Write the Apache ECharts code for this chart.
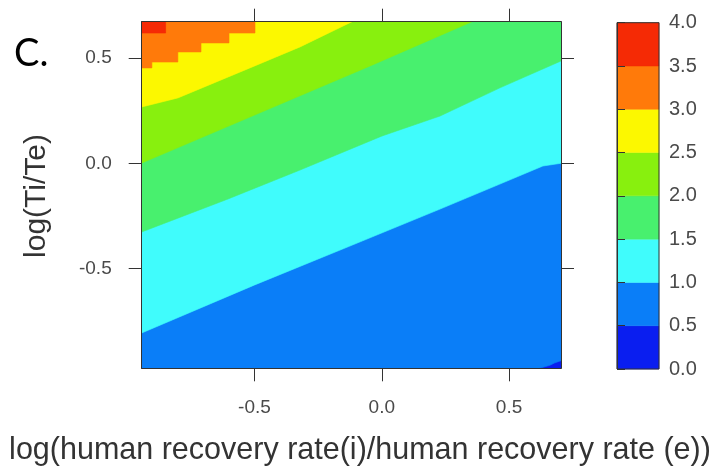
<!DOCTYPE html>
<html>
<head>
<meta charset="utf-8">
<script src="https://cdn.jsdelivr.net/npm/echarts@6/dist/echarts.min.js"></script>
<style>
  html, body { margin: 0; padding: 0; background: #ffffff; }
  #chart { width: 717px; height: 469px; }
</style>
</head>
<body>
<div id="chart"></div>
<script>
// Contour breaks and the fill colour of each band between them
const levelBreaks = [0, 0.5, 1.0, 1.5, 2.0, 2.5, 3.0, 3.5, 4.0];
const levelColors = ['#0a1ef0', '#0a7ef8', '#40fcfc', '#48f06e', '#88f00e', '#fcf800', '#ff7a0a', '#f52a05'];

// Panel extent and tick values
const xRange = [-0.943, 0.704];
const yRange = [-0.976, 0.674];
const xTicks = [-0.5, 0.0, 0.5];
const yTicks = [-0.5, 0.0, 0.5];

// Lower edge of each band (value above the break), traced left to right as [x, y]
const band1Edge = [[-0.943, -0.976], [0.620, -0.976], [0.660, -0.962], [0.680, -0.950], [0.704, -0.940]];
const band2Edge = [[-0.943, -0.808], [-0.499, -0.579], [-0.125, -0.394], [0.229, -0.218], [0.464, -0.099], [0.633, -0.013], [0.704, 0.000]];
const band3Edge = [[-0.943, -0.327], [-0.604, -0.170], [-0.321, -0.032], [0.001, 0.130], [0.229, 0.225], [0.464, 0.359], [0.704, 0.487]];
const band4Edge = [[-0.943, 0.001], [-0.518, 0.220], [-0.046, 0.463], [0.354, 0.674]];
const band5Edge = [[-0.943, 0.268], [-0.801, 0.311], [-0.518, 0.454], [-0.321, 0.554], [-0.117, 0.674]];
const band6Edge = [[-0.943, 0.454], [-0.903, 0.454], [-0.903, 0.482], [-0.801, 0.482], [-0.801, 0.530],
                   [-0.710, 0.530], [-0.710, 0.573], [-0.600, 0.573], [-0.600, 0.620], [-0.498, 0.620], [-0.498, 0.674]];
const band7Edge = [[-0.943, 0.620], [-0.849, 0.620], [-0.849, 0.674]];

const bandEdges = [null, band1Edge, band2Edge, band3Edge, band4Edge, band5Edge, band6Edge, band7Edge];

const FONT = "'Liberation Sans', Arial, Helvetica, sans-serif";
const TICK_COLOR = '#4a4a4a';
const fmt = v => Number(v).toFixed(1);

const chart = echarts.init(document.getElementById('chart'), null, { renderer: 'canvas' });

// Each band is the region above its edge, closed along the panel top
function bandPolygon(k) {
  if (k === 0) {
    return [[xRange[0], yRange[0]], [xRange[1], yRange[0]], [xRange[1], yRange[1]], [xRange[0], yRange[1]]];
  }
  const edge = bandEdges[k];
  const last = edge[edge.length - 1];
  return edge.concat([[last[0], yRange[1]], [xRange[0], yRange[1]]]);
}

const bandData = levelColors.map((c, k) => ({ value: [k, levelBreaks[k]] }));

const panelAxisLine = { show: true, onZero: false, lineStyle: { color: '#333333', width: 1 } };

const option = {
  animation: false,
  backgroundColor: '#ffffff',
  grid: [
    { left: 141.7, right: 156, top: 21.7, bottom: 100.7, containLabel: false },
    { left: 617, width: 42, top: 22.7, bottom: 100, containLabel: false }
  ],
  xAxis: [
    {
      type: 'value', gridIndex: 0, position: 'bottom', min: xRange[0], max: xRange[1], z: 10,
      axisLine: panelAxisLine,
      axisTick: { show: true, inside: false, length: 13, customValues: xTicks, lineStyle: { color: '#333333' } },
      axisLabel: { show: true, customValues: xTicks, formatter: fmt, margin: 30, fontSize: 19, color: TICK_COLOR, fontFamily: FONT },
      splitLine: { show: false }
    },
    {
      type: 'value', gridIndex: 0, position: 'top', min: xRange[0], max: xRange[1], z: 10,
      axisLine: panelAxisLine,
      axisTick: { show: true, inside: false, length: 13, customValues: xTicks, lineStyle: { color: '#333333' } },
      axisLabel: { show: false },
      splitLine: { show: false }
    },
    {
      type: 'value', gridIndex: 1, min: 0, max: 1, show: false
    }
  ],
  yAxis: [
    {
      type: 'value', gridIndex: 0, position: 'left', min: yRange[0], max: yRange[1], z: 10,
      axisLine: panelAxisLine,
      axisTick: { show: true, inside: false, length: 13, customValues: yTicks, lineStyle: { color: '#333333' } },
      axisLabel: { show: true, customValues: yTicks, formatter: fmt, margin: 30, fontSize: 19, color: TICK_COLOR, fontFamily: FONT },
      splitLine: { show: false }
    },
    {
      type: 'value', gridIndex: 0, position: 'right', min: yRange[0], max: yRange[1], z: 10,
      axisLine: panelAxisLine,
      axisTick: { show: true, inside: false, length: 13, customValues: yTicks, lineStyle: { color: '#333333' } },
      axisLabel: { show: false },
      splitLine: { show: false }
    },
    {
      type: 'value', gridIndex: 1, position: 'right', min: 0, max: 4, interval: 0.5, z: 10,
      axisLine: { show: true, lineStyle: { color: '#333333', width: 1 } },
      axisTick: { show: true, inside: false, length: 8, lineStyle: { color: '#333333' } },
      axisLabel: { show: true, formatter: fmt, margin: 10, fontSize: 20, color: TICK_COLOR, fontFamily: FONT },
      splitLine: { show: false }
    }
  ],
  series: [
    {
      // filled contour bands of the panel
      type: 'custom',
      name: 'bands',
      xAxisIndex: 0,
      yAxisIndex: 0,
      data: bandData,
      clip: true,
      renderItem: function (params, api) {
        const k = params.dataIndex;
        const pts = bandPolygon(k).map(p => api.coord(p));
        return {
          type: 'polygon',
          shape: { points: pts },
          style: { fill: levelColors[k], stroke: levelColors[k], lineWidth: 0.6 }
        };
      }
    },
    {
      // colour key blocks
      type: 'custom',
      name: 'key',
      xAxisIndex: 2,
      yAxisIndex: 2,
      data: bandData,
      renderItem: function (params, api) {
        const k = params.dataIndex;
        const p0 = api.coord([0, levelBreaks[k]]);
        const p1 = api.coord([1, levelBreaks[k + 1]]);
        return {
          type: 'rect',
          shape: { x: p0[0], y: p1[1], width: p1[0] - p0[0], height: p0[1] - p1[1] },
          style: { fill: levelColors[k], stroke: levelColors[k], lineWidth: 0.5 }
        };
      }
    },
    {
      // frame around the colour key
      type: 'custom',
      name: 'keyFrame',
      xAxisIndex: 2,
      yAxisIndex: 2,
      z: 5,
      data: [{ value: [0, 0] }],
      renderItem: function (params, api) {
        const p0 = api.coord([0, levelBreaks[0]]);
        const p1 = api.coord([1, levelBreaks[levelBreaks.length - 1]]);
        return {
          type: 'rect',
          shape: { x: p0[0], y: p1[1], width: p1[0] - p0[0], height: p0[1] - p1[1] },
          style: { fill: null, stroke: '#333333', lineWidth: 1 }
        };
      }
    }
  ],
  graphic: [
    {
      type: 'text', left: 14, top: 35,
      style: { text: 'C.', font: "38px Lato, 'Open Sans', sans-serif", fill: '#000000' }
    },
    {
      type: 'text', x: 37, y: 196, rotation: Math.PI / 2,
      style: { text: 'log(Ti/Te)', font: "30px " + FONT, fill: '#333333', align: 'center', verticalAlign: 'middle' }
    },
    {
      type: 'text', x: 360, y: 451,
      style: { text: 'log(human recovery rate(i)/human recovery rate (e))', font: "30.5px " + FONT, fill: '#333333', align: 'center', verticalAlign: 'middle' }
    }
  ]
};

chart.setOption(option);
</script>
</body>
</html>
